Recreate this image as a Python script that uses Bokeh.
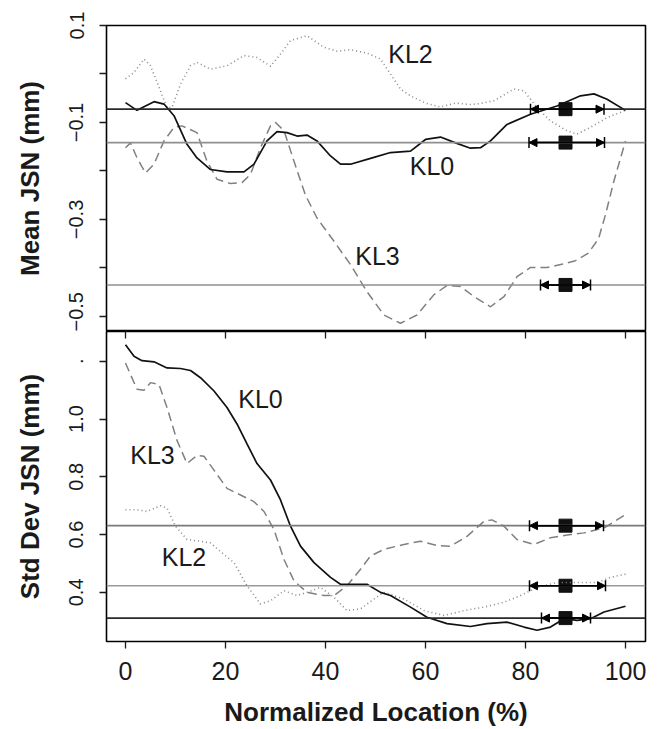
import math
from bokeh.plotting import figure
from bokeh.layouts import column
from bokeh.models import Range1d, FixedTicker, Span, Arrow, NormalHead, TeeHead, ColumnDataSource
from bokeh.core.properties import value
from bokeh.embed import file_html
from bokeh.resources import INLINE

# ---------------- data ----------------
x_ticks = [0, 20, 40, 60, 80, 100]
top_ticks = [0.1, -0.1, -0.3, -0.5]
top_minor_ticks = [0.0, -0.2, -0.4]
bot_ticks = [0.4, 0.6, 0.8, 1.0, 1.2]
bot_tick_labels = {0.4: "0.4", 0.6: "0.6", 0.8: "0.8", 1.0: "1.0", 1.2: "."}

# Mean JSN (top panel)
top_kl0_x = [0, 2.3, 5.7, 7.7, 9.7, 12.3, 14.3, 17, 20.3, 23.7, 25.7, 28.3, 30.3, 32.3, 34.3, 36.3, 38.3, 41, 43, 45, 49,
             53, 57, 60, 63, 66, 69, 71, 73, 76.3, 81, 86.3, 91, 93.7, 96.3, 100]
top_kl0_y = [-0.059, -0.075, -0.057, -0.062, -0.086, -0.145, -0.173, -0.197, -0.202, -0.202, -0.186, -0.138, -0.119,
             -0.121, -0.128, -0.126, -0.138, -0.169, -0.186, -0.186, -0.174, -0.162, -0.159, -0.135, -0.13, -0.142,
             -0.153, -0.152, -0.138, -0.104, -0.083, -0.066, -0.045, -0.041, -0.052, -0.075]

top_kl2_x = [0, 1.7, 3.7, 5, 7, 8.3, 9.3, 11, 13, 14.3, 17, 20.3, 23.7, 26.3, 29, 31, 33, 36.3, 39.7, 42.3, 45, 48.3, 51,
             53, 55, 57, 60, 63, 66, 69, 71, 73.7, 77.7, 79.7, 82.3, 85, 88.3, 90.3, 93, 96.3, 100]
top_kl2_y = [-0.01, 0.003, 0.031, 0.017, -0.035, -0.069, -0.069, -0.021, 0.017, 0.024, 0.010, 0.017, 0.038, 0.034, 0.016,
             0.041, 0.069, 0.079, 0.055, 0.047, 0.050, 0.043, 0.031, 0.0, -0.031, -0.045, -0.06, -0.068, -0.06, -0.063,
             -0.061, -0.055, -0.031, -0.035, -0.069, -0.097, -0.117, -0.124, -0.11, -0.09, -0.075]

top_kl3_x = [0, 1, 2.3, 4, 5.7, 7.7, 9.7, 11.3, 14.3, 16.3, 18.3, 21, 23.3, 25, 27, 29, 30, 31.7, 33.7, 36, 38.3, 41.7,
             45, 48.3, 51.7, 55, 58.3, 61.7, 64.3, 67, 69.7, 73, 75.7, 78.3, 81, 84.3, 87, 90, 92.5, 94.6, 96, 97.7, 100]
top_kl3_y = [-0.152, -0.142, -0.173, -0.204, -0.186, -0.138, -0.11, -0.107, -0.121, -0.18, -0.217, -0.226, -0.224,
             -0.207, -0.152, -0.107, -0.1, -0.117, -0.18, -0.25, -0.297, -0.345, -0.393, -0.449, -0.497, -0.514,
             -0.497, -0.455, -0.436, -0.438, -0.459, -0.48, -0.459, -0.418, -0.399, -0.399, -0.393, -0.385, -0.37,
             -0.34, -0.29, -0.22, -0.138]

# Std Dev JSN (bottom panel)
bot_kl0_x = [0, 1.7, 3.3, 5.7, 8.3, 11, 13, 15, 17.7, 20.3, 22.3, 24.3, 26.3, 29, 31, 33, 35, 37.7, 41, 43, 45.7, 48.3,
             51, 53, 57, 60.3, 64.3, 69, 72.3, 76.3, 79.7, 82.3, 85, 87.7, 90.3, 93, 95.7, 100]
bot_kl0_y = [1.257, 1.217, 1.202, 1.198, 1.177, 1.175, 1.168, 1.143, 1.097, 1.040, 0.983, 0.914, 0.846, 0.789, 0.720,
             0.629, 0.560, 0.503, 0.452, 0.428, 0.428, 0.428, 0.400, 0.389, 0.349, 0.314, 0.292, 0.282, 0.292, 0.297,
             0.280, 0.269, 0.280, 0.309, 0.303, 0.309, 0.332, 0.352]

bot_kl3_x = [0, 1, 2.3, 3.7, 5, 6.7, 8.3, 10.3, 12.3, 14.3, 15.7, 17.7, 20.3, 23, 25.7, 27.7, 29.7, 31.7, 33.7, 36.3,
             39.7, 41.7, 44.3, 47, 49, 51.7, 55.7, 59, 62.3, 65, 68.3, 71.7, 73.3, 75.7, 78.3, 81.7, 85, 89, 91.7, 95.7,
             100]
bot_kl3_y = [1.194, 1.154, 1.103, 1.1, 1.126, 1.12, 1.04, 0.926, 0.846, 0.874, 0.871, 0.823, 0.760, 0.737, 0.714, 0.680,
             0.617, 0.514, 0.440, 0.400, 0.389, 0.389, 0.423, 0.480, 0.526, 0.549, 0.566, 0.577, 0.562, 0.560, 0.594,
             0.646, 0.651, 0.629, 0.583, 0.566, 0.589, 0.600, 0.606, 0.623, 0.669]

bot_kl2_x = [0, 2.3, 4.3, 7, 8.3, 10, 12.3, 15, 17, 19.7, 21.7, 24.3, 27, 29, 31.7, 34.3, 36.3, 39, 41.7, 44.3, 47, 49.7,
             51.7, 55.7, 59.7, 63.7, 67.7, 71.7, 75.7, 79, 82.3, 86.3, 90.3, 94.3, 97, 100]
bot_kl2_y = [0.686, 0.686, 0.680, 0.700, 0.692, 0.629, 0.583, 0.577, 0.571, 0.531, 0.503, 0.423, 0.360, 0.371, 0.406,
             0.389, 0.400, 0.417, 0.383, 0.337, 0.343, 0.377, 0.400, 0.377, 0.337, 0.320, 0.337, 0.349, 0.366, 0.389,
             0.417, 0.434, 0.434, 0.434, 0.452, 0.463]

# reference levels with intervals (center, low, high)
top_levels = [-0.0725, -0.1415, -0.435]
top_level_colors = ["#2a2a2a", "#8f8f8f", "#8f8f8f"]
top_center = [88, 88, 88]
top_lo = [81, 80.7, 83]
top_hi = [95.7, 95.8, 93]

bot_levels = [0.631, 0.423, 0.311]
bot_level_colors = ["#7a7a7a", "#9a9a9a", "#2a2a2a"]
bot_center = [88, 88, 88]
bot_lo = [80.8, 80.8, 83.2]
bot_hi = [95.6, 96, 93]

# text labels
top_lab_text = ["KL2", "KL0", "KL3"]
top_lab_x = [57, 61.3, 50.4]
top_lab_y = [0.042, -0.19, -0.376]
bot_lab_text = ["KL0", "KL3", "KL2"]
bot_lab_x = [27, 5.4, 11.7]
bot_lab_y = [1.07, 0.874, 0.524]

FONT = "Liberation Sans"
INK = "#1a1a1a"

x_range = Range1d(-3.8, 104)
top_y_range = Range1d(-0.531, 0.1)
bot_y_range = Range1d(0.230, 1.303)


def style_left_axis(ax, title):
    ax.major_label_orientation = "vertical"
    ax.major_tick_out = 7
    ax.major_tick_in = 0
    ax.minor_tick_in = 0
    ax.major_tick_line_color = INK
    ax.minor_tick_line_color = INK
    ax.major_tick_line_width = 1.3
    ax.minor_tick_line_width = 1.3
    ax.axis_line_color = None
    ax.major_label_text_font = FONT
    ax.major_label_text_font_size = "20px"
    ax.major_label_text_color = INK
    ax.major_label_standoff = 16
    ax.axis_label = title
    ax.axis_label_text_font = FONT
    ax.axis_label_text_font_style = "bold"
    ax.axis_label_text_font_size = "26px"
    ax.axis_label_text_color = INK
    ax.axis_label_standoff = 22


def add_curves(p, kl0x, kl0y, kl2x, kl2y, kl3x, kl3y):
    p.line(kl2x, kl2y, line_color="#8a8a8a", line_width=1.6, line_dash="1 3")
    p.line(kl3x, kl3y, line_color="#808080", line_width=1.5, line_dash="9 5")
    p.line(kl0x, kl0y, line_color="#111111", line_width=1.7)


def add_levels(p, levels, colors, center, lo, hi):
    for lv, c in zip(levels, colors):
        p.add_layout(Span(location=lv, dimension="width", line_color=c, line_width=1.6))
    src = ColumnDataSource(dict(lo=lo, hi=hi, y=levels, c=center))
    p.add_layout(Arrow(x_start="lo", y_start="y", x_end="hi", y_end="y", source=src,
                       line_color="black", line_width=1.5,
                       start=NormalHead(size=8, fill_color="black", line_color="black", line_width=1),
                       end=NormalHead(size=8, fill_color="black", line_color="black", line_width=1)))
    p.add_layout(Arrow(x_start="lo", y_start="y", x_end="hi", y_end="y", source=src,
                       line_color="black", line_width=1.5,
                       start=TeeHead(size=11, line_color="black", line_width=1.5),
                       end=TeeHead(size=11, line_color="black", line_width=1.5)))
    p.scatter(x="c", y="y", source=src, marker="square", size=13, fill_color="#111111", line_color="#111111")


def add_labels(p, xs, ys, texts):
    p.text(x=xs, y=ys, text=texts, text_align="center", text_baseline="middle",
           text_font=value(FONT), text_font_size="25px", text_color=INK)


# ---------------- top panel ----------------
p1 = figure(width=665, height=331, x_range=x_range, y_range=top_y_range,
            output_backend="svg", toolbar_location=None, x_axis_location=None,
            min_border_left=106, min_border_right=20, min_border_top=25, min_border_bottom=0)
p1.grid.visible = False
p1.outline_line_color = "black"
p1.outline_line_width = 1.6
p1.outline_line_alpha = 1
ya1 = p1.yaxis[0]
ya1.ticker = FixedTicker(ticks=top_ticks, minor_ticks=top_minor_ticks)
ya1.minor_tick_out = 7
style_left_axis(ya1, "Mean JSN (mm)")
add_levels(p1, top_levels, top_level_colors, top_center, top_lo, top_hi)
add_curves(p1, top_kl0_x, top_kl0_y, top_kl2_x, top_kl2_y, top_kl3_x, top_kl3_y)
add_labels(p1, top_lab_x, top_lab_y, top_lab_text)

# ---------------- bottom panel ----------------
p2 = figure(width=665, height=398, x_range=x_range, y_range=bot_y_range,
            output_backend="svg", toolbar_location=None,
            min_border_left=106, min_border_right=20, min_border_top=0, min_border_bottom=86)
p2.grid.visible = False
p2.outline_line_color = "black"
p2.outline_line_width = 1.6
p2.outline_line_alpha = 1
ya2 = p2.yaxis[0]
ya2.ticker = FixedTicker(ticks=bot_ticks)
ya2.major_label_overrides = bot_tick_labels
ya2.minor_tick_out = 0
style_left_axis(ya2, "Std Dev JSN (mm)")

xa = p2.xaxis[0]
xa.ticker = FixedTicker(ticks=x_ticks)
xa.major_tick_out = 7
xa.major_tick_in = 0
xa.minor_tick_out = 0
xa.minor_tick_in = 0
xa.major_tick_line_color = INK
xa.major_tick_line_width = 1.3
xa.axis_line_color = None
xa.major_label_text_font = FONT
xa.major_label_text_font_size = "25px"
xa.major_label_text_color = INK
xa.major_label_standoff = 13
xa.axis_label = "Normalized Location (%)"
xa.axis_label_text_font = FONT
xa.axis_label_text_font_style = "bold"
xa.axis_label_text_font_size = "26px"
xa.axis_label_text_color = INK
xa.axis_label_standoff = 14

# ticks of the upper panel's x axis that reach down into the lower panel
p2.scatter(x=x_ticks, y=[bot_y_range.end] * len(x_ticks), marker="dash", angle=math.pi / 2,
           size=14, line_color=INK, line_width=1.3)

add_levels(p2, bot_levels, bot_level_colors, bot_center, bot_lo, bot_hi)
add_curves(p2, bot_kl0_x, bot_kl0_y, bot_kl2_x, bot_kl2_y, bot_kl3_x, bot_kl3_y)
add_labels(p2, bot_lab_x, bot_lab_y, bot_lab_text)

layout = column(p1, p2, spacing=0)
open("out.html", "w").write(file_html(layout, INLINE))
